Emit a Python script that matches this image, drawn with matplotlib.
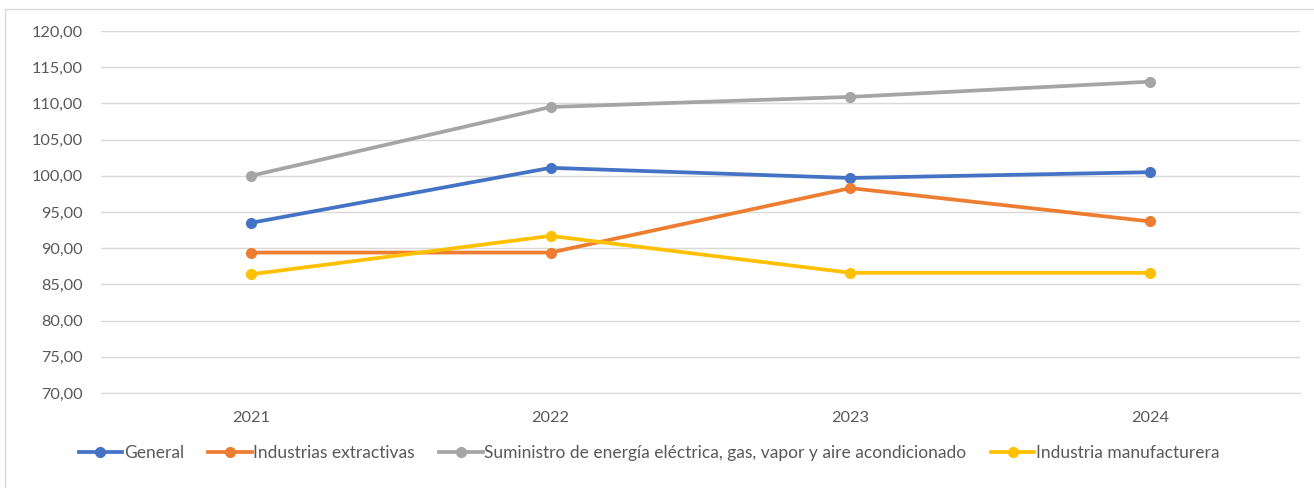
import matplotlib.pyplot as plt
from matplotlib.ticker import FuncFormatter
from matplotlib.patches import Rectangle

years = ['2021', '2022', '2023', '2024']
general = [93.5, 101.1, 99.7, 100.5]
extractivas = [89.4, 89.4, 98.3, 93.7]
suministro = [100.0, 109.5, 110.9, 113.0]
manufacturera = [86.4, 91.7, 86.6, 86.6]

series = [
    ('General', general, '#4472C4'),
    ('Industrias extractivas', extractivas, '#ED7D31'),
    ('Suministro de energía eléctrica, gas, vapor y aire acondicionado', suministro, '#A5A5A5'),
    ('Industria manufacturera', manufacturera, '#FFC000'),
]

plt.rcParams['font.family'] = ['Lato', 'DejaVu Sans']
textColor = '#595959'

fig = plt.figure(figsize=(13.14, 4.88), dpi=100)
fig.patches.append(Rectangle((5 / 1314, -0.01), 1.0, 1 - 9 / 488 + 0.01, transform=fig.transFigure,
                             fill=False, edgecolor='#D9D9D9', linewidth=1))
ax = fig.add_axes([101 / 1314, 1 - 393 / 488, 1199 / 1314, 362 / 488])

x = range(len(years))
for name, values, color in series:
    ax.plot(x, values, color=color, linewidth=2.7, marker='o', markersize=7, label=name)

ax.set_xlim(-0.5, len(years) - 0.5)
ax.set_ylim(70, 120)
ax.set_yticks(range(70, 121, 5))
ax.yaxis.set_major_formatter(FuncFormatter(lambda v, p: f'{v:.2f}'.replace('.', ',')))
ax.set_xticks(list(x))
ax.set_xticklabels(years)
ax.grid(axis='y', color='#D9D9D9', linewidth=1)
ax.set_axisbelow(True)
for side in ['top', 'right', 'left']:
    ax.spines[side].set_visible(False)
ax.spines['bottom'].set_color('#D9D9D9')
ax.tick_params(axis='both', length=0, colors=textColor, labelsize=11.7)
ax.tick_params(axis='x', pad=13)
ax.tick_params(axis='y', pad=13)

fig.legend(loc='center', bbox_to_anchor=(0.494, 1 - 453 / 488), ncol=4, frameon=False,
           fontsize=12.5, labelcolor=textColor, handlelength=2.5, handletextpad=0.1,
           columnspacing=1.4)

fig.savefig('out.png', dpi=100)
